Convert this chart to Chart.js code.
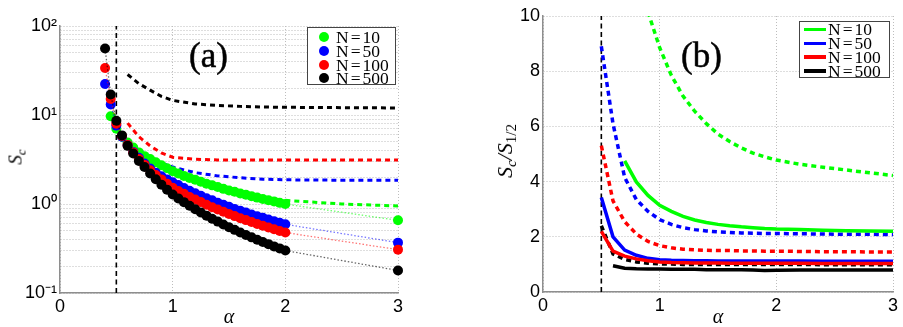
<!DOCTYPE html>
<html><head><meta charset="utf-8">
<script src="https://cdn.jsdelivr.net/npm/chart.js@4.4.0/dist/chart.umd.min.js"></script>
<style>
html,body{margin:0;padding:0;background:#fff;width:903px;height:327px;overflow:hidden}
#wrap{position:relative;width:903px;height:327px}
canvas{position:absolute;top:0}
.t{position:absolute;font-family:"Liberation Serif","DejaVu Serif",serif;color:#000;white-space:nowrap;line-height:1}
.it{font-style:italic}
.rot{transform:translate(-50%,-50%) rotate(-90deg);transform-origin:center}
.ctr{transform:translate(-50%,-50%)}
sub{font-size:68%;vertical-align:-0.3em;line-height:0}
.up{font-style:normal}
.lbox{position:absolute;border:1px solid #444;background:#fff;box-sizing:border-box}
.row{position:absolute;height:14px;line-height:14px;font-size:17.5px;font-family:"Liberation Serif","DejaVu Serif",serif;white-space:nowrap}
.eq{margin:0 2px}
.dot{position:absolute;width:10px;height:10px;border-radius:50%}
.seg{position:absolute;width:22px;height:3.5px}
</style></head>
<body><div id="wrap">
<canvas id="ca" width="450" height="327" style="left:0"></canvas>
<canvas id="cb" width="453" height="327" style="left:450px"></canvas>

<div class="t" style="left:189px;top:38px;font-size:35px;-webkit-text-stroke:0.5px #000">(a)</div>
<div class="t" style="left:681px;top:38px;font-size:35px;-webkit-text-stroke:0.5px #000">(b)</div>

<div class="t it rot" style="left:15px;top:157px;font-size:19px">S<sub>c</sub></div>
<div class="t it ctr" style="left:229px;top:316px;font-size:20px">α</div>
<div class="t it ctr" style="left:718px;top:316px;font-size:20px">α</div>
<div class="t it rot" style="left:505px;top:151px;font-size:22px">S<sub>c</sub>/S<sub class="up">1/2</sub></div>

<div class="lbox" style="left:307px;top:27px;width:89px;height:58px">
  <div class="dot" style="left:11px;top:4px;background:#00ff00"></div>
  <div class="row" style="left:28px;top:2px">N<span class="eq">=</span>10</div>
  <div class="dot" style="left:11px;top:18px;background:#0000ff"></div>
  <div class="row" style="left:28px;top:16px">N<span class="eq">=</span>50</div>
  <div class="dot" style="left:11px;top:31.5px;background:#ff0000"></div>
  <div class="row" style="left:28px;top:29.5px">N<span class="eq">=</span>100</div>
  <div class="dot" style="left:11px;top:45px;background:#000000"></div>
  <div class="row" style="left:28px;top:43px">N<span class="eq">=</span>500</div>
</div>

<div class="lbox" style="left:799px;top:21px;width:91px;height:57px">
  <div class="seg" style="left:4px;top:5.5px;background:#00ff00"></div>
  <div class="row" style="left:28px;top:0px">N<span class="eq">=</span>10</div>
  <div class="seg" style="left:4px;top:19.5px;background:#0000ff"></div>
  <div class="row" style="left:28px;top:14px">N<span class="eq">=</span>50</div>
  <div class="seg" style="left:4px;top:33px;background:#ff0000"></div>
  <div class="row" style="left:28px;top:27.5px">N<span class="eq">=</span>100</div>
  <div class="seg" style="left:4px;top:47px;background:#000000"></div>
  <div class="row" style="left:28px;top:41.5px">N<span class="eq">=</span>500</div>
</div>
</div>
<script>
// ---------- Panel (a): S_c vs alpha (log scale) ----------
const alphaL = [0.4,0.45,0.5,0.55,0.6,0.65,0.7,0.75,0.8,0.85,0.9,0.95,1.0,1.05,1.1,1.15,1.2,1.25,1.3,1.35,1.4,1.45,1.5,1.55,1.6,1.65,1.7,1.75,1.8,1.85,1.9,1.95,2.0,3.0];
const scN10  = [null,9.7,7.0,5.7,4.9,4.3,3.8,3.45,3.2,2.95,2.72,2.52,2.33,2.2,2.07,1.96,1.87,1.78,1.69,1.62,1.55,1.48,1.42,1.37,1.31,1.27,1.22,1.18,1.14,1.10,1.07,1.03,1.0,0.656];
const scN50  = [22.3,13.1,7.6,5.7,4.6,3.85,3.3,2.85,2.5,2.25,2.05,1.89,1.755,1.63,1.51,1.41,1.32,1.24,1.16,1.10,1.035,0.98,0.93,0.88,0.84,0.80,0.763,0.73,0.70,0.67,0.64,0.616,0.591,0.368];
const scN100 = [33.7,15.1,8.0,5.8,4.6,3.8,3.2,2.75,2.4,2.12,1.89,1.69,1.52,1.40,1.30,1.20,1.12,1.05,0.98,0.92,0.866,0.817,0.772,0.731,0.693,0.659,0.627,0.597,0.57,0.544,0.52,0.498,0.478,0.307];
const scN500 = [56,17,8.6,5.9,4.5,3.7,3.05,2.6,2.2,1.9,1.65,1.45,1.28,1.156,1.049,0.956,0.875,0.803,0.74,0.684,0.634,0.589,0.549,0.512,0.479,0.449,0.422,0.397,0.375,0.354,0.334,0.317,0.300,0.179];

const alphaTheoryL = [0.6,0.7,0.8,0.9,1.0,1.2,1.4,1.6,1.8,2.0,2.5,3.0];
const thN10  = [null,null,null,null,null,null,null,null,null,1.1,1.0,0.95];
const thN50  = [null,4.1,3.4,2.9,2.6,2.25,2.07,1.97,1.9,1.87,1.85,1.85];
const thN100 = [8.1,5.7,4.5,3.75,3.35,3.18,3.13,3.12,3.12,3.12,3.12,3.12];
const thN500 = [28.5,22.5,19.0,16.2,14.6,13.3,12.8,12.5,12.3,12.2,12.1,12.0];

const leftYTicks = [0.1,0.2,0.3,0.4,0.5,0.6,0.7,0.8,0.9,1,2,3,4,5,6,7,8,9,10,20,30,40,50,60,70,80,90,100];
const leftMajorValues = [0.1,1,10,100];
const leftMajorLabels = ['10⁻¹','10⁰','10¹','10²'];
const xTickLabels = ['0','1','2','3'];

// ---------- Panel (b): S_c / S_1/2 vs alpha ----------
const alphaR = [0.5,0.6,0.7,0.8,0.9,1.0,1.1,1.2,1.3,1.4,1.5,1.6,1.7,1.8,1.9,2.0,2.2,2.4,2.6,2.8,3.0];
const rN10   = [null,null,4.75,3.99,3.5,3.14,2.92,2.74,2.61,2.52,2.45,2.4,2.36,2.33,2.3,2.28,2.26,2.24,2.22,2.21,2.2];
const rN50   = [3.42,2.0,1.52,1.33,1.22,1.17,1.15,1.14,1.13,1.13,1.12,1.12,1.12,1.12,1.12,1.12,1.12,1.11,1.11,1.11,1.11];
const rN100  = [2.2,1.48,1.3,1.2,1.13,1.09,1.07,1.06,1.05,1.05,1.05,1.04,1.04,1.04,1.04,1.04,1.04,1.03,1.03,1.03,1.03];
const rN500  = [null,0.95,0.86,0.84,0.83,0.83,0.82,0.82,0.82,0.81,0.81,0.81,0.81,0.8,0.78,0.79,0.8,0.8,0.8,0.8,0.8];
const rthN10  = [null,null,null,null,10.15,8.85,7.85,7.1,6.55,6.1,5.72,5.45,5.22,5.03,4.9,4.78,4.63,4.52,4.42,4.32,4.22];
const rthN50  = [8.9,6.1,4.15,3.35,2.92,2.62,2.45,2.33,2.26,2.21,2.18,2.16,2.14,2.13,2.12,2.12,2.11,2.1,2.09,2.09,2.08];
const rthN100 = [5.3,3.3,2.55,2.1,1.83,1.68,1.6,1.55,1.53,1.51,1.5,1.5,1.49,1.49,1.48,1.48,1.47,1.46,1.46,1.45,1.45];
const rthN500 = [2.4,1.38,1.18,1.09,1.04,1.02,1.01,1.0,1.0,1.0,1.0,1.0,1.0,1.0,1.0,1.0,1.0,0.99,0.99,0.99,0.99];

const alphaCrit = 0.5;
const seriesNames = ['N=10','N=50','N=100','N=500'];

// ---------- helpers ----------
function pts(xs, ys){ const o=[]; for(let i=0;i<xs.length;i++){ if(ys[i]!==null) o.push({x:xs[i],y:ys[i]}); } return o; }
const COL = ['#00ff00','#0000ff','#ff0000','#000000'];
const FAINT = ['rgba(0,255,0,0.55)','rgba(0,0,255,0.55)','rgba(255,0,0,0.55)','rgba(0,0,0,0.6)'];
Chart.defaults.font.family = "'Liberation Sans', Arial, sans-serif";

const gridOpts = {color:'#bdbdbd', lineWidth:1, drawTicks:false};
const borderOpts = {display:true, color:'#8e8e8e', width:1.5, dash:[1,2]};
const tickFont = {size:18};

function markerSet(label, ys, i, order){
  return {label, data: pts(alphaL, ys), showLine:true, borderColor:FAINT[i], borderWidth:1.3, borderDash:[1.5,2],
    pointRadius:5, pointHoverRadius:5, pointBackgroundColor:COL[i], pointBorderWidth:0, order, clip:false};
}
function lineSet(label, xs, ys, i, dashed, width, order){
  return {label, data: pts(xs, ys), borderColor:COL[i], borderWidth:width, borderDash: dashed ? [5,4] : [],
    pointRadius:0, tension:0, order};
}

// ---------- Chart (a) ----------
new Chart(document.getElementById('ca'), {
  type:'line',
  data:{datasets:[
    markerSet(seriesNames[3], scN500, 3, 1),
    markerSet(seriesNames[2], scN100, 2, 2),
    markerSet(seriesNames[1], scN50, 1, 3),
    markerSet(seriesNames[0], scN10, 0, 4),
    lineSet('theory N=10', alphaTheoryL, thN10, 0, true, 3, 5),
    lineSet('theory N=50', alphaTheoryL, thN50, 1, true, 3, 6),
    lineSet('theory N=100', alphaTheoryL, thN100, 2, true, 3, 7),
    lineSet('theory N=500', alphaTheoryL, thN500, 3, true, 3, 8),
    {label:'alpha=1/2', data:[{x:alphaCrit,y:0.1},{x:alphaCrit,y:100}], borderColor:'#000', borderWidth:1.6, borderDash:[5,3.5], pointRadius:0, order:20}
  ]},
  options:{
    responsive:false, animation:false, devicePixelRatio:1,
    layout:{padding:{left:0,right:52,top:26,bottom:0}},
    plugins:{legend:{display:false}, tooltip:{enabled:false}},
    scales:{
      x:{type:'linear', min:0, max:3, afterFit(s){s.height=34;},
         ticks:{stepSize:1, color:'#000', font:tickFont, padding:3, maxRotation:0, autoSkip:false,
                callback:(v)=>xTickLabels[Math.round(v)]},
         grid:gridOpts, border:borderOpts},
      y:{type:'logarithmic', min:0.1, max:100, afterFit(s){s.width=60;},
         afterBuildTicks(s){ s.ticks = leftYTicks.map(v=>({value:v})); },
         ticks:{autoSkip:false, color:'#000', font:tickFont, padding:3,
                callback:(v)=>{ for(let k=0;k<leftMajorValues.length;k++){ if(Math.abs(v/leftMajorValues[k]-1)<1e-6) return leftMajorLabels[k]; } return ''; }},
         grid:gridOpts, border:borderOpts}
    }
  }
});

// ---------- Chart (b) ----------
new Chart(document.getElementById('cb'), {
  type:'line',
  data:{datasets:[
    lineSet(seriesNames[3], alphaR, rN500, 3, false, 3.5, 1),
    lineSet(seriesNames[2], alphaR, rN100, 2, false, 3.5, 2),
    lineSet(seriesNames[1], alphaR, rN50, 1, false, 3.5, 3),
    lineSet(seriesNames[0], alphaR, rN10, 0, false, 3.5, 4),
    lineSet('theory N=500', alphaR, rthN500, 3, true, 3.5, 5),
    lineSet('theory N=100', alphaR, rthN100, 2, true, 3.5, 6),
    lineSet('theory N=50', alphaR, rthN50, 1, true, 3.5, 7),
    lineSet('theory N=10', alphaR, rthN10, 0, true, 3.5, 8),
    {label:'alpha=1/2', data:[{x:alphaCrit,y:0},{x:alphaCrit,y:10}], borderColor:'#000', borderWidth:1.6, borderDash:[5,3.5], pointRadius:0, order:20}
  ]},
  options:{
    responsive:false, animation:false, devicePixelRatio:1,
    layout:{padding:{left:0,right:10,top:16,bottom:0}},
    plugins:{legend:{display:false}, tooltip:{enabled:false}},
    scales:{
      x:{type:'linear', min:0, max:3, afterFit(s){s.height=35;},
         ticks:{stepSize:1, color:'#000', font:tickFont, padding:3, maxRotation:0, autoSkip:false,
                callback:(v)=>xTickLabels[Math.round(v)]},
         grid:gridOpts, border:borderOpts},
      y:{type:'linear', min:0, max:10, afterFit(s){s.width=93;},
         ticks:{stepSize:2, color:'#000', font:tickFont, padding:3},
         grid:gridOpts, border:borderOpts}
    }
  }
});
</script>
</body></html>
